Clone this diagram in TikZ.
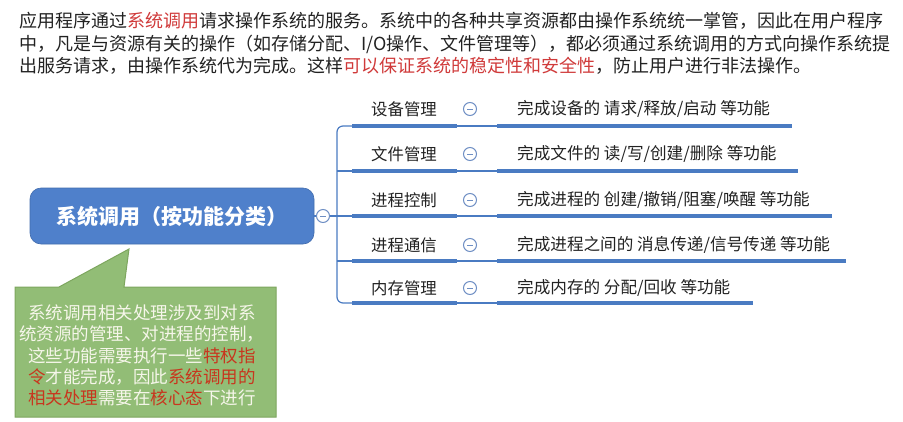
\documentclass[tikz,border=0pt]{standalone}
\usepackage{fontspec}
\newfontfamily\song{Noto Sans CJK SC}
\newfontfamily\hei{Noto Sans CJK SC}
\definecolor{txt}{HTML}{222222}
\definecolor{redA}{HTML}{D03A3A}
\definecolor{redB}{HTML}{C8361E}
\definecolor{rootblue}{HTML}{4F80CB}
\definecolor{lineblue}{HTML}{4A7BC2}
\definecolor{btn}{HTML}{6F8FC4}
\definecolor{calfill}{HTML}{92BD76}
\definecolor{caldraw}{HTML}{7DA65E}
\definecolor{calwhite}{HTML}{F6F6EA}
\tikzset{
  topline/.style={anchor=base west,inner sep=0pt,text=txt,font=\song\fontsize{18}{18}\selectfont},
  rootbox/.style={draw=rootblue!85!black,line width=0.6pt,fill=rootblue,rounded corners=11pt,minimum width=284pt,minimum height=56pt,inner sep=0pt,text=white,font=\hei\bfseries\fontsize{21}{21}\selectfont},
  btnc/.style={circle,draw=btn,line width=1pt,fill=white,minimum size=13pt,inner sep=0pt,path picture={\draw[btn,line width=1pt] ([xshift=-3pt]path picture bounding box.center) -- ([xshift=3pt]path picture bounding box.center);}},
  lbl/.style={anchor=west,inner sep=0pt,text=txt,font=\hei\fontsize{16.4}{16.4}\selectfont},
  dtl/.style={anchor=west,inner sep=0pt,text=txt,font=\hei\fontsize{16.6}{16.6}\selectfont},
  thin/.style={draw=lineblue,line width=1.2pt},
  thick/.style={draw=lineblue,line width=3.6pt},
  calline/.style={inner sep=0pt,text=calwhite,font=\song\fontsize{17.5}{17.5}\selectfont},
}
\begin{document}
\begin{tikzpicture}[x=1pt,y=-1pt]
\useasboundingbox[fill=white] (0,0) rectangle (903,421);
% top paragraph
\node[topline] (p1) at (19,27.5) {应用程序通过\textcolor{redA}{系统调用}请求操作系统的服务。系统中的各种共享资源都由操作系统统一掌管，因此在用户程序};
\node[topline] (p2) at (19,50) {中，凡是与资源有关的操作（如存储分配、I/O操作、文件管理等），都必须通过系统调用的方式向操作系统提};
\node[topline] (p3) at (19,72.5) {出服务请求，由操作系统代为完成。这样\textcolor{redA}{可以保证系统的稳定性和安全性}，防止用户进行非法操作。};
% root
\node[rootbox] (root) at (172,216) {系统调用（按功能分类）};
\node[btnc] (rb) at (323,216) {};
\draw[thin] (root.east) -- (rb.west);
\coordinate (vx) at (337,216);
\draw[thin] (rb.east) -- (vx);
% rows
\foreach \i/\ty/\uy/\lab/\det/\endx in {
  1/109/126/设备管理/{完成设备的 请求/释放/启动 等功能}/792,
  2/154/171/文件管理/{完成文件的 读/写/创建/删除 等功能}/798,
  3/200/216/进程控制/{完成进程的 创建/撤销/阻塞/唤醒 等功能}/832,
  4/245/261/进程通信/{完成进程之间的 消息传递/信号传递 等功能}/846,
  5/288/303/内存管理/{完成内存的 分配/回收 等功能}/753}{
  \node[lbl] (l\i) at (371,\ty) {\lab};
  \node[btnc] (b\i) at (470,\ty) {};
  \node[dtl] (d\i) at (517,\ty) {\det};
  \coordinate (us\i) at (352,\uy);
  \coordinate (ue\i) at (457,\uy);
  \coordinate (vs\i) at (497,\uy);
  \coordinate (ve\i) at (\endx,\uy);
  \draw[thick] (us\i) -- (ue\i);
  \draw[thin] (ue\i) -- (vs\i);
  \draw[thick] (vs\i) -- (ve\i);
}
\draw[thin,rounded corners=6pt] (us1) -- (337,126) -- (337,303) -- (us5);
\draw[thin] (337,171) -- (us2);
\draw[thin] (vx) -- (us3);
\draw[thin] (337,261) -- (us4);
% callout
\draw[draw=caldraw,line width=1pt,fill=calfill] (15,287) -- (59,287) -- (129,249) -- (124,287) -- (276,287) -- (276,417) -- (15,417) -- cycle;
\node[calline] (c1) at (142,313) {系统调用相关处理涉及到对系};
\node[calline] (c2) at (142,334) {统资源的管理、对进程的控制，};
\node[calline] (c3) at (142,356) {这些功能需要执行一些\textcolor{redB}{特权指}};
\node[calline] (c4) at (142,377) {\textcolor{redB}{令}才能完成，因此\textcolor{redB}{系统调用的}};
\node[calline] (c5) at (142,398) {\textcolor{redB}{相关处理}需要在\textcolor{redB}{核心态}下进行};
\end{tikzpicture}
\end{document}
